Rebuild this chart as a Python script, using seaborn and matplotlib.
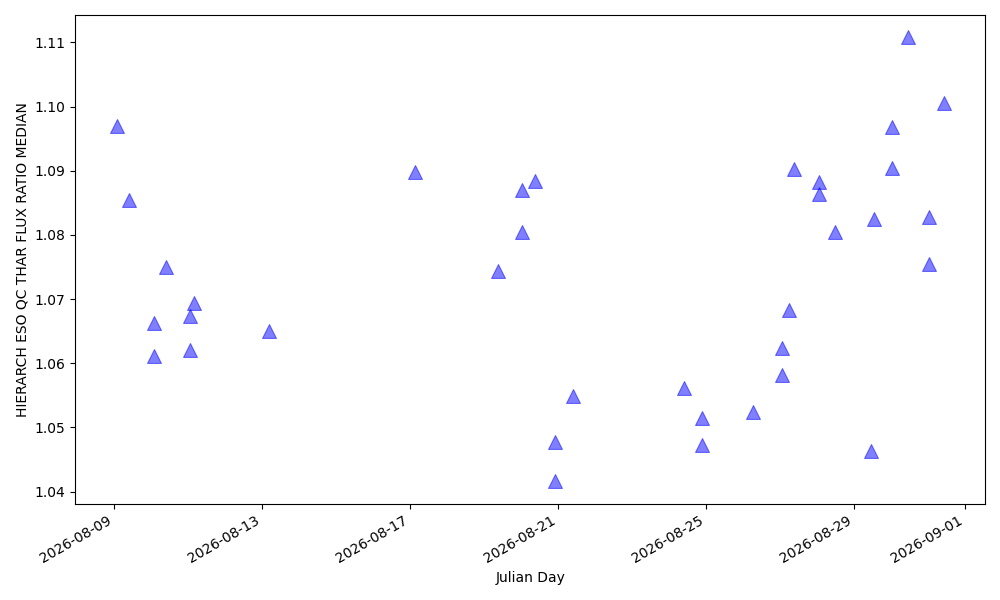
import pandas as pd
import matplotlib
matplotlib.use('Agg')
import matplotlib.pyplot as plt
import seaborn as sns

obs_times = [
    '2026-08-09 02:00', '2026-08-09 10:20', '2026-08-10 02:00', '2026-08-10 02:00',
    '2026-08-10 10:20', '2026-08-11 01:20', '2026-08-11 01:20', '2026-08-11 04:30',
    '2026-08-13 04:30', '2026-08-17 03:15', '2026-08-19 09:05', '2026-08-20 00:40',
    '2026-08-20 00:40', '2026-08-20 09:05', '2026-08-20 22:00', '2026-08-20 22:00',
    '2026-08-21 09:45', '2026-08-24 09:45', '2026-08-24 21:25', '2026-08-24 21:25',
    '2026-08-26 06:30', '2026-08-27 01:20', '2026-08-27 01:20', '2026-08-27 05:50',
    '2026-08-27 09:05', '2026-08-28 01:20', '2026-08-28 01:20', '2026-08-28 11:40',
    '2026-08-29 11:00', '2026-08-29 13:00', '2026-08-30 00:45', '2026-08-30 00:45',
    '2026-08-30 11:00', '2026-08-31 00:45', '2026-08-31 00:45', '2026-08-31 10:20',
]

# QC flux ratio median values
flux_ratio = [
    1.0969, 1.0855, 1.0662, 1.0612,
    1.0750, 1.0673, 1.0620, 1.0694,
    1.0651, 1.0898, 1.0743, 1.0870,
    1.0804, 1.0884, 1.0478, 1.0416,
    1.0549, 1.0561, 1.0514, 1.0472,
    1.0524, 1.0623, 1.0581, 1.0683,
    1.0902, 1.0882, 1.0864, 1.0804,
    1.0463, 1.0825, 1.0968, 1.0904,
    1.1108, 1.0828, 1.0754, 1.1005,
]

df = pd.DataFrame({
    'Julian Day': pd.to_datetime(obs_times),
    'HIERARCH ESO QC THAR FLUX RATIO MEDIAN': flux_ratio,
})

fig, ax = plt.subplots(figsize=(10, 6), dpi=100)
sns.scatterplot(x='Julian Day', y='HIERARCH ESO QC THAR FLUX RATIO MEDIAN', data=df,
                marker='^', s=100, color='blue', edgecolor='blue', alpha=0.5, ax=ax)
ax.set_xlabel('Julian Day')
ax.set_ylabel('HIERARCH ESO QC THAR FLUX RATIO MEDIAN')
fig.autofmt_xdate()
plt.tight_layout()
plt.savefig('out.png')
